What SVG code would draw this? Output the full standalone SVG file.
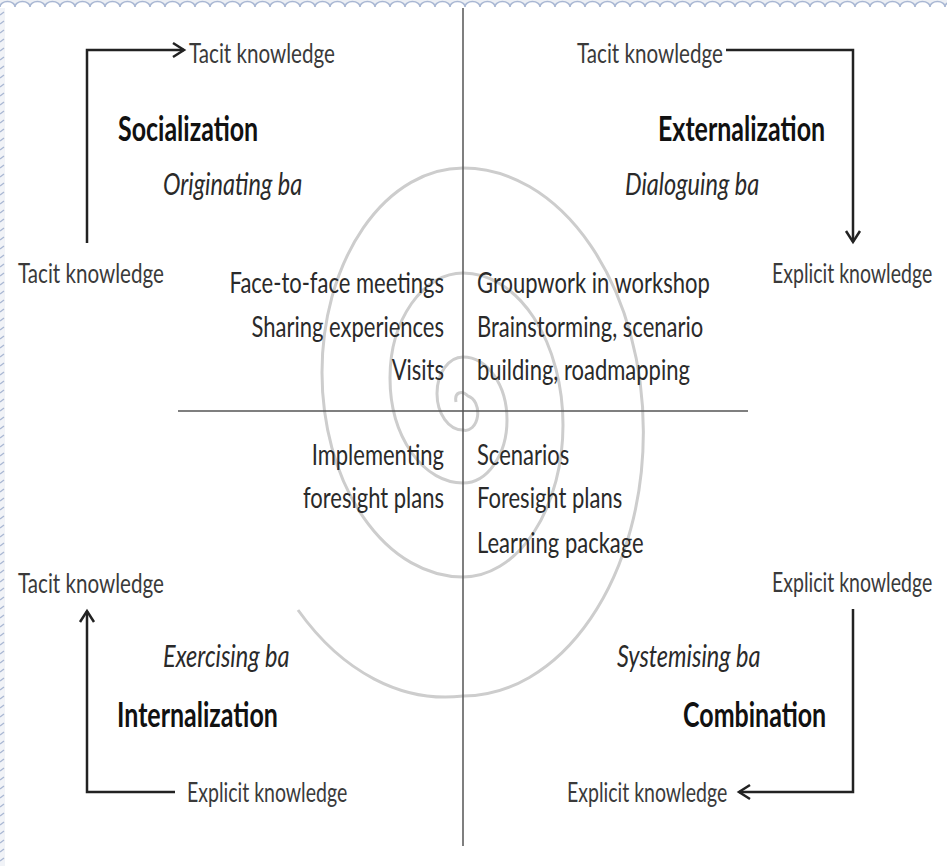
<svg xmlns="http://www.w3.org/2000/svg" width="947" height="866" viewBox="0 0 947 866">
<style>
text{font-family:Lato,"Open Sans","Liberation Sans",sans-serif;}
.lbl{font-size:20.6px;fill:#3a3a3a;}
.exp{font-size:19.5px;fill:#3a3a3a;}
.lst{font-size:22px;fill:#2a2a2a;}
.ba{font-size:23.5px;font-style:italic;fill:#2a2a2a;}
.ttl{font-size:25px;font-weight:bold;fill:#111;}
.end{text-anchor:end;}
.conn{fill:none;stroke:#222;stroke-width:2.5;}
.div{stroke:#555;stroke-width:1.5;fill:none;}
.spiral{fill:none;stroke:#cdcdcd;stroke-width:3;}
</style>
<defs>
<marker id="arr" markerUnits="userSpaceOnUse" markerWidth="16" markerHeight="18" refX="12" refY="8" orient="auto" viewBox="0 0 16 16">
<path d="M1,1 L12,8 L1,15" fill="none" stroke="#222" stroke-width="2.5"/>
</marker>
<pattern id="topb" width="15" height="9" patternUnits="userSpaceOnUse">
<path d="M0,0 H15 V7 A7.5,5.5 0 0 0 0,7 Z" fill="#eceff4"/>
<path d="M0,7 A7.5,5.5 0 0 1 15,7" fill="none" stroke="#a9b7d3" stroke-width="1.5"/>
</pattern>
<pattern id="leftb" width="5" height="9" patternUnits="userSpaceOnUse">
<rect width="5" height="9" fill="#f1f3f7"/>
<path d="M0,6 L4,3" fill="none" stroke="#a9b7d3" stroke-width="1.3"/>
</pattern>
</defs>
<rect width="947" height="866" fill="#fff"/>
<g id="border">
<rect x="0" y="0" width="947" height="8" fill="url(#topb)"/>
<rect x="0" y="8" width="5" height="858" fill="url(#leftb)"/>
</g>
<g id="background">
<path class="spiral" d="M456,402 C454,392 462,390 468,396 A12 17 0 0 1 463 430 A26 36.5 0 0 1 463 357 A44 63 0 0 1 463 483 A73 105 0 0 1 463 273 A100 152 0 0 1 463 577 A141 204.5 0 0 1 463 168 A179 262 0 0 1 463 696 A215 320 0 0 1 298 610"/>
<line class="div" x1="463" y1="8" x2="463" y2="846"/>
<line class="div" x1="178" y1="411" x2="748" y2="411" stroke-width="2"/>
</g>
<g id="connectors">
<path class="conn" d="M87,243 V50 H184" marker-end="url(#arr)"/>
<path class="conn" d="M726,50 H853 V242" marker-end="url(#arr)"/>
<path class="conn" d="M175,792 H87 V611" marker-end="url(#arr)"/>
<path class="conn" d="M853,609 V792 H739" marker-end="url(#arr)"/>
</g>
<g id="socialization">
<text class="lbl" transform="translate(189 63) scale(1 1.35)">Tacit knowledge</text>
<text class="ttl" transform="translate(118 141) scale(1 1.35)">Socialization</text>
<text class="ba" transform="translate(163 195) scale(1 1.33)">Originating ba</text>
<text class="lbl" transform="translate(18 283) scale(1 1.35)">Tacit knowledge</text>
</g>
<g id="externalization">
<text class="lbl" transform="translate(577 63) scale(1 1.35)">Tacit knowledge</text>
<text class="ttl" transform="translate(658 141) scale(1 1.35)">Externalization</text>
<text class="ba" transform="translate(625 195) scale(1 1.33)">Dialoguing ba</text>
<text class="exp" transform="translate(772 283) scale(1 1.42)">Explicit knowledge</text>
</g>
<g id="internalization">
<text class="lbl" transform="translate(18 593) scale(1 1.35)">Tacit knowledge</text>
<text class="ba" transform="translate(163 667) scale(1 1.33)">Exercising ba</text>
<text class="ttl" transform="translate(117 727) scale(1 1.35)">Internalization</text>
<text class="exp" transform="translate(187 802) scale(1 1.42)">Explicit knowledge</text>
</g>
<g id="combination">
<text class="exp" transform="translate(772 592) scale(1 1.42)">Explicit knowledge</text>
<text class="ba" transform="translate(617 667) scale(1 1.33)">Systemising ba</text>
<text class="ttl" transform="translate(683 727) scale(1 1.35)">Combination</text>
<text class="exp" transform="translate(567 802) scale(1 1.42)">Explicit knowledge</text>
</g>
<g id="socialization-activities">
<text class="lst end" transform="translate(444 293) scale(1 1.35)">Face-to-face meetings</text>
<text class="lst end" transform="translate(444 337) scale(1 1.35)">Sharing experiences</text>
<text class="lst end" transform="translate(444 380) scale(1 1.35)">Visits</text>
</g>
<g id="externalization-activities">
<text class="lst" transform="translate(477 293) scale(1 1.35)">Groupwork in workshop</text>
<text class="lst" transform="translate(477 337) scale(1 1.35)">Brainstorming, scenario</text>
<text class="lst" transform="translate(477 380) scale(1 1.35)">building, roadmapping</text>
</g>
<g id="internalization-activities">
<text class="lst end" transform="translate(444 465) scale(1 1.35)">Implementing</text>
<text class="lst end" transform="translate(444 508) scale(1 1.35)">foresight plans</text>
</g>
<g id="combination-outputs">
<text class="lst" transform="translate(477 465) scale(1 1.35)">Scenarios</text>
<text class="lst" transform="translate(477 508) scale(1 1.35)">Foresight plans</text>
<text class="lst" transform="translate(477 553) scale(1 1.35)">Learning package</text>
</g>
</svg>
